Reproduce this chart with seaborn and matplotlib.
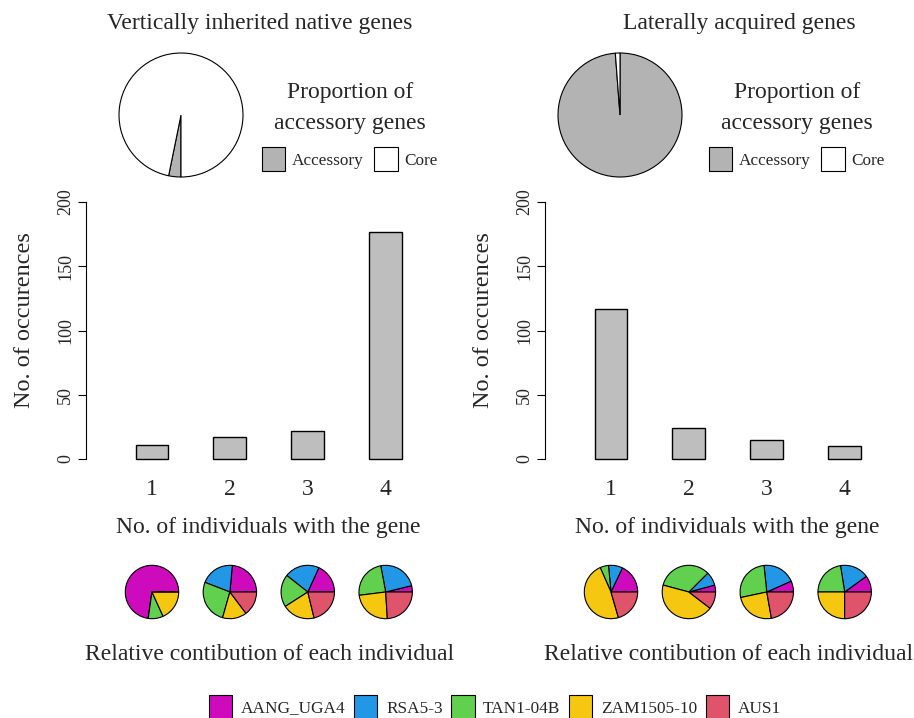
import matplotlib
matplotlib.use("Agg")
import matplotlib.pyplot as plt
from matplotlib.patches import Patch
import seaborn as sns
import pandas as pd

# number of genes found in n individuals
n_individuals = ["1", "2", "3", "4"]
native_counts = [11, 17, 22, 177]
lateral_counts = [117, 24, 15, 10]

# proportion of accessory vs core genes (%)
prop_labels = ["Accessory", "Core"]
native_prop = [3.2, 96.8]
lateral_prop = [98.8, 1.2]

# contribution of each individual to every bar
individuals = ["AANG_UGA4", "RSA5-3", "TAN1-04B", "ZAM1505-10", "AUS1"]
native_contrib = [[8, 0, 1, 2, 0], [8, 7, 9, 5, 5],
                  [12, 14, 13, 13, 14], [27, 171, 170, 170, 170]]
lateral_contrib = [[21, 10, 6, 56, 24], [2, 4, 16, 21, 5],
                   [3, 9, 12, 11, 10], [4, 7, 9, 10, 10]]

ind_colors = ["#CD0BBC", "#2297E6", "#61D04F", "#F5C710", "#DF536B"]
prop_colors = ["#B3B3B3", "white"]
bar_color = "#BEBEBE"

sns.set_style("white")
plt.rcParams["font.family"] = ["Liberation Serif", "DejaVu Serif"]

W, H = 914, 718
BIG = 17
SMALL = 12.4
STEP = 77.9  # pixels between bars


def box(x0, top, w, h):
    return [x0 / W, 1 - (top + h) / H, w / W, h / H]


fig = plt.figure(figsize=(W / 100, H / 100), dpi=100)

panels = [
    dict(title="Vertically inherited native genes", title_x=260, axis_x=86,
         pie_x=181, leg_x=350, counts=native_counts, prop=native_prop,
         start=270, contrib=native_contrib),
    dict(title="Laterally acquired genes", title_x=739, axis_x=545,
         pie_x=620, leg_x=797, counts=lateral_counts, prop=lateral_prop,
         start=90, contrib=lateral_contrib),
]

wedge_kw = dict(edgecolor="black", linewidth=0.8)

for p in panels:
    ax0 = p["axis_x"]
    fig.text(p["title_x"] / W, 1 - 23 / H, p["title"], ha="center", va="center", fontsize=BIG)

    # proportion pie
    r = 62
    pax = fig.add_axes(box(p["pie_x"] - r * 1.04, 115 - r * 1.04, 2 * r * 1.04, 2 * r * 1.04))
    pax.pie(p["prop"], colors=prop_colors, startangle=p["start"], counterclock=False,
            wedgeprops=wedge_kw)
    pax.set_xlim(-1.04, 1.04)
    pax.set_ylim(-1.04, 1.04)
    pax.axis("off")

    fig.text(p["leg_x"] / W, 1 - 108 / H, "Proportion of\naccessory genes", ha="center",
             va="center", fontsize=BIG, linespacing=1.6)
    handles = [Patch(facecolor=c, edgecolor="black", linewidth=0.8) for c in prop_colors]
    pax.legend(handles, prop_labels, ncol=2, frameon=False, fontsize=SMALL,
               loc="center", bbox_to_anchor=(p["leg_x"] / W, 1 - 159 / H),
               bbox_transform=fig.transFigure, handlelength=1.35, handleheight=1.7,
               handletextpad=0.4, columnspacing=0.6, borderpad=0, borderaxespad=0)

    # bar chart
    ax = fig.add_axes(box(ax0, 202, 361.6, 257))
    df = pd.DataFrame({"n": n_individuals, "count": p["counts"]})
    sns.barplot(data=df, x="n", y="count", color=bar_color, saturation=1, width=0.42,
                edgecolor="black", linewidth=1, ax=ax)
    for bar in ax.patches:
        bar.set_clip_on(False)
    ax.set_xlim(-0.847, 3.8)
    ax.set_ylim(0, 200)
    ax.set_yticks([0, 50, 100, 150, 200])
    sns.despine(ax=ax, bottom=True)
    ax.spines["left"].set_linewidth(0.8)
    ax.spines["left"].set_color("black")
    ax.tick_params(axis="y", labelrotation=90, labelsize=13, length=5.5, width=0.8,
                   pad=3, left=True, color="black")
    for lab in ax.get_yticklabels():
        lab.set_verticalalignment("center")
    ax.tick_params(axis="x", length=0, labelsize=BIG, pad=14.5)
    ax.set_xlabel("No. of individuals with the gene", fontsize=BIG, va="top")
    ax.xaxis.set_label_coords(0.503, -0.224)
    ax.set_ylabel("No. of occurences", fontsize=BIG + 0.5)
    ax.yaxis.set_label_coords(-0.141, 0.539)

    # contribution pies under each bar
    rs = 26.7
    for i, vals in enumerate(p["contrib"]):
        cx = ax0 + (0.847 + i) * STEP
        sax = fig.add_axes(box(cx - rs * 1.05, 592 - rs * 1.05, 2 * rs * 1.05, 2 * rs * 1.05))
        sax.pie(vals, colors=ind_colors, startangle=0, counterclock=True, wedgeprops=wedge_kw)
        sax.set_xlim(-1.05, 1.05)
        sax.set_ylim(-1.05, 1.05)
        sax.axis("off")

    fig.text((ax0 + 184) / W, 1 - 654 / H, "Relative contibution of each individual",
             ha="center", va="center", fontsize=BIG)

handles = [Patch(facecolor=c, edgecolor="black", linewidth=0.8) for c in ind_colors]
fig.legend(handles, individuals, ncol=5, frameon=False, fontsize=SMALL, loc="center",
           bbox_to_anchor=(495 / W, 1 - 707 / H), handlelength=1.35, handleheight=1.7,
           handletextpad=0.5, columnspacing=0.5, borderpad=0, borderaxespad=0)

fig.savefig("out.png", dpi=100)
